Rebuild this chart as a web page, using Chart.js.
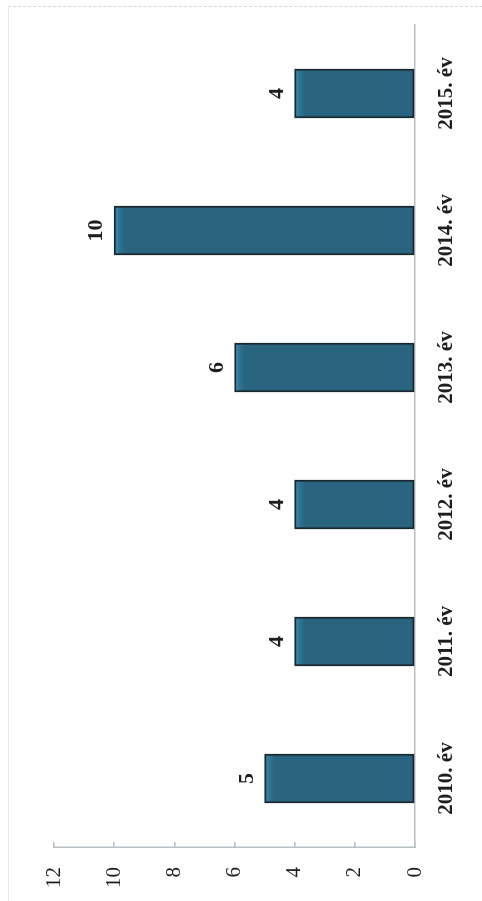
<!DOCTYPE html>
<html>
<head>
<meta charset="utf-8">
<title>2010-2015. év</title>
<script src="https://cdn.jsdelivr.net/npm/chart.js@4.4.1/dist/chart.umd.min.js"></script>
<style>
body { margin: 0; background: #fff; overflow: hidden; width: 482px; height: 901px; }
#frame { position: absolute; left: 8px; top: 6px; width: 474px; height: 895px;
	border-left: 1px solid #e6e8ea; border-top: 1px dashed #d2d6d8; }
/* the chart is drawn upright and then turned a quarter to the left, like the scan */
#wrap { position: absolute; left: 0; top: 0; width: 901px; height: 482px;
	transform-origin: 0 0; transform: translateY(901px) rotate(-90deg); }
</style>
</head>
<body>
<div id="frame"></div>
<div id="wrap"><canvas id="evChart" width="901" height="482"></canvas></div>
<script>
var categories = ['2010. év', '2011. év', '2012. év', '2013. év', '2014. év', '2015. év'];
var values = [5, 4, 4, 6, 10, 4];
var valueTicks = [0, 2, 4, 6, 8, 10, 12];

var axisGrey = '#b7bfc3';

// value labels over the bars (no datalabels plugin here)
var barLabels = {
	id: 'barLabels',
	afterDatasetsDraw: function(chart) {
		var ctx = chart.ctx;
		var meta = chart.getDatasetMeta(0);
		ctx.save();
		ctx.font = 'bold 22px "Liberation Serif"';
		ctx.fillStyle = '#1e1e1e';
		ctx.textAlign = 'center';
		ctx.textBaseline = 'alphabetic';
		for (var i = 0; i < meta.data.length; i++) {
			var bar = meta.data[i];
			ctx.fillText(String(values[i]), bar.x, bar.y - 12);
		}
		ctx.restore();
	}
};

// light bevel at the top end of each bar
function barFill(c) {
	var chart = c.chart;
	var yScale = chart.scales.y;
	if (!yScale || !c.parsed) return '#29657f';
	var top = yScale.getPixelForValue(c.parsed.y);
	if (!isFinite(top)) return '#29657f';
	var g = chart.ctx.createLinearGradient(0, top, 0, top + 10);
	g.addColorStop(0, '#3f98bd');
	g.addColorStop(0.45, '#2f7595');
	g.addColorStop(1, '#29657f');
	return g;
}

var ctx = document.getElementById('evChart').getContext('2d');
var evChart = new Chart(ctx, {
	type: 'bar',
	data: {
		labels: categories,
		datasets: [{
			data: values,
			backgroundColor: barFill,
			borderColor: '#1a2930',
			borderWidth: 2,
			borderSkipped: false,
			barThickness: 49
		}]
	},
	options: {
		responsive: false,
		animation: false,
		devicePixelRatio: 1,
		layout: { padding: { top: 54, right: 25, left: 0, bottom: 0 } },
		plugins: {
			legend: { display: false },
			tooltip: { enabled: false }
		},
		scales: {
			x: {
				grid: { display: false },
				border: { color: axisGrey, width: 1.5 },
				ticks: {
					color: '#1e1e1e',
					font: { family: 'Liberation Serif', size: 21, weight: 'bold' },
					padding: 11,
					maxRotation: 0,
					autoSkip: false
				},
				afterFit: function(scale) { scale.height = 67; }
			},
			y: {
				min: 0,
				max: 12,
				afterBuildTicks: function(scale) {
					scale.ticks = valueTicks.map(function(v) { return { value: v }; });
				},
				grid: { drawOnChartArea: false, drawTicks: true, tickLength: -5, color: axisGrey, lineWidth: 1.5 },
				border: { color: axisGrey, width: 1.5 },
				ticks: {
					color: '#1e1e1e',
					font: { family: 'Liberation Serif', size: 21 },
					padding: 25
				},
				afterFit: function(scale) { scale.width = 54; }
			}
		}
	},
	plugins: [barLabels]
});
</script>
</body>
</html>
